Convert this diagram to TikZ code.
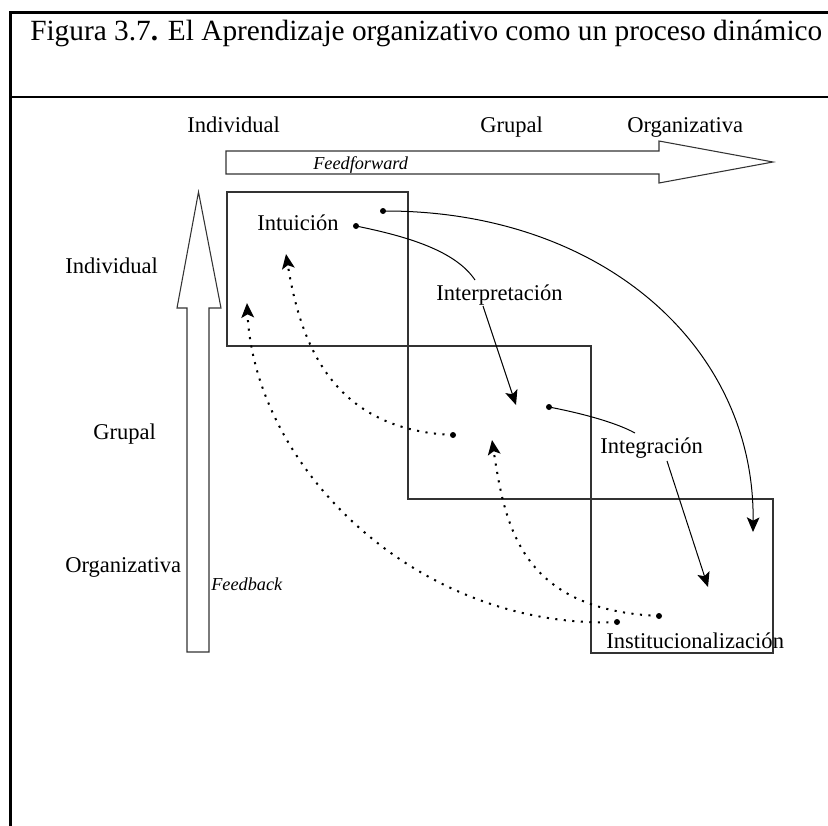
\documentclass[tikz,border=0pt]{standalone}
\usepackage{fontspec}
\setmainfont{Liberation Serif}
\usetikzlibrary{arrows.meta}

\tikzset{
  frameline/.style={line width=2.2pt, line cap=rect},
  stagebox/.style={draw=black!80, line width=0.9pt},
  hollowarrow/.style={draw=black!80, line width=0.8pt, fill=white, line join=miter},
  titletext/.style={font=\fontsize{22}{26}\selectfont, inner sep=0pt, anchor=base west},
  lbl/.style={font=\fontsize{16.9}{19}\selectfont, inner sep=0pt, anchor=base west},
  ital/.style={font=\fontsize{13.7}{16}\selectfont\itshape, inner sep=0pt, anchor=base west},
  dotnode/.style={circle, fill=black, inner sep=0pt, minimum size=4.5pt},
  tip/.style={-{Stealth[length=11pt, width=9.5pt, inset=2.5pt]}},
  flow/.style={line width=0.75pt, tip},
  link/.style={line width=0.75pt},
  back/.style={line width=1.5pt, dash pattern=on 1.6pt off 4.8pt, tip}
}

\begin{document}
\begin{tikzpicture}[x=0.75pt, y=-0.75pt]
  \useasboundingbox (0,0) rectangle (828,825);

  % frame of the figure
  \draw[frameline] (828,12.5) -- (10.5,12.5) -- (10.5,825);
  \draw[frameline] (10.5,97) -- (828,97);

  \node[titletext] (title) at (30,40.5)
    {Figura 3.7\textbf{.} El Aprendizaje organizativo como un proceso dinámico};

  % level headings along the top
  \node[lbl] (topInd) at (187,132) {Individual};
  \node[lbl] (topGru) at (480,132) {Grupal};
  \node[lbl] (topOrg) at (627,132) {Organizativa};

  % level headings along the left side
  \node[lbl] (leftInd) at (65,273) {Individual};
  \node[lbl] (leftGru) at (93,439) {Grupal};
  \node[lbl] (leftOrg) at (65,572) {Organizativa};

  % feedforward arrow
  \draw[hollowarrow] (226,151) -- (659,151) -- (659,141) -- (773,162)
        -- (659,183) -- (659,174) -- (226,174) -- cycle;
  \node[ital] (ff) at (313,169) {Feedforward};

  % feedback arrow
  \draw[hollowarrow] (187,652) -- (187,308) -- (177,308) -- (198.5,192)
        -- (221,308) -- (209,308) -- (209,652) -- cycle;
  \node[ital] (fb) at (211,590) {Feedback};

  % the three stage boxes
  \draw[stagebox] (227,192) rectangle (408,346);
  \draw[stagebox] (408,346) rectangle (591,499);
  \draw[stagebox] (591,499) rectangle (773,653);

  % process labels
  \node[lbl] (intu) at (257,230) {Intuición};
  \node[lbl] (interp) at (436,300) {Interpretación};
  \node[lbl] (integ) at (600,453) {Integración};
  \node[lbl] (inst) at (606,648) {Institucionalización};

  % start dots
  \node[dotnode] (d1) at (356,226) {};
  \node[dotnode] (d2) at (383,211) {};
  \node[dotnode] (d3) at (549,407) {};
  \node[dotnode] (d4) at (453,435) {};
  \node[dotnode] (d5) at (659,616) {};
  \node[dotnode] (d6) at (617,622) {};

  % points where lines meet the labels, and arrow ends
  \coordinate (interpIn)  at (475,280);
  \coordinate (interpOut) at (483,306);
  \coordinate (integIn)   at (635,433);
  \coordinate (integOut)  at (667,461);
  \coordinate (t1) at (516,405);
  \coordinate (t2) at (753,532);
  \coordinate (t3) at (708,587);
  \coordinate (t4) at (286,254);
  \coordinate (t5) at (492,440);
  \coordinate (t6) at (247,303);

  % feedforward flows
  \draw[link] (d1.center) .. controls (405,236) and (455,250) .. (interpIn);
  \draw[flow] (interpOut) -- (t1);
  \draw[flow] (d2.center) .. controls (600,210) and (755,345) .. (t2);
  \draw[link] (d3.center) .. controls (580,413) and (615,422) .. (integIn);
  \draw[flow] (integOut) -- (t3);

  % feedback flows
  \draw[back] (d4.center) .. controls (330,430) and (300,340) .. (t4);
  \draw[back] (d5.center) .. controls (520,610) and (505,525) .. (t5);
  \draw[back] (d6.center) .. controls (420,630) and (255,470) .. (t6);
\end{tikzpicture}
\end{document}
